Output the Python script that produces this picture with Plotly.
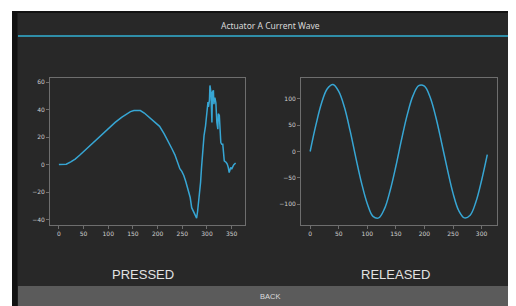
import plotly.graph_objects as go

# The page body has an 8px margin; the figure fills the rest of the 516x306 window.
OFF = 8
W, H = 516 - OFF, 306 - OFF

# ---- data ----
pressed_x = [0, 8, 15, 24, 33, 42, 50, 63, 77, 89, 101, 114, 127, 137, 145, 152, 158, 165, 173,
             181, 192, 204, 213, 222, 229, 235, 242, 245, 249, 253, 257, 262, 266, 269, 272, 275,
             277, 279, 281, 283, 285, 287, 289, 291, 294, 297, 299, 300, 302, 303, 305, 306, 308,
             310, 311, 313, 314, 316, 318, 320, 322, 323, 325, 328, 330, 332, 335, 339, 341, 343,
             345, 348, 350, 354, 358]
pressed_y = [0, 0, 0.3, 2, 4, 6.8, 9.5, 13.8, 18, 22.5, 26.6, 30.7, 34.4, 36.8, 38.5, 39.3, 39.5,
             39.3, 37.5, 35, 31.6, 27.8, 22.5, 16.8, 11.5, 7.1, -0.2, -3, -5, -8, -12.4, -19.7, -24,
             -31.4, -33.5, -35.5, -37, -39, -34, -28, -20, -13, -2, 9, 21, 28, 36, 43, 45.5, 42, 47,
             57.6, 52.6, 30.7, 52.7, 54, 44, 48.7, 45, 30.7, 25.8, 37, 35.7, 16, 14.7, 14.7, 2.7,
             1.5, 0.3, -2, -5.8, -2.1, -3.3, -0.3, 1.2]

released_x = [0, 10, 20, 30, 40, 50, 60, 70, 80, 90, 100, 110, 120, 130, 140, 150, 160, 170, 180,
              190, 200, 210, 220, 230, 240, 250, 260, 270, 280, 290, 300, 310]
released_y = [0, 50, 92, 119, 127, 114, 84, 39, -12, -60, -99, -123, -126, -109, -74, -28, 23, 70,
              106, 125, 124, 103, 65, 17, -33, -79, -112, -126, -121, -96, -55, -6]

left_xticks = [0, 50, 100, 150, 200, 250, 300, 350]
left_yticks = [-40, -20, 0, 20, 40, 60]
right_xticks = [0, 50, 100, 150, 200, 250, 300]
right_yticks = [-100, -50, 0, 50, 100]

title_text = "Actuator A Current Wave"
left_label = "PRESSED"
right_label = "RELEASED"
button_label = "BACK"

BG = "#282828"
LINE = "#37a6d4"
FRAME = "#6e6e6e"
TICKC = "#cfcfcf"


def px(x):
    return (x - OFF) / W


def py(y):
    return 1 - (y - OFF) / H


fig = go.Figure()
fig.add_trace(go.Scatter(x=pressed_x, y=pressed_y, mode="lines", xaxis="x", yaxis="y",
                         line=dict(color=LINE, width=1.5), showlegend=False))
fig.add_trace(go.Scatter(x=released_x, y=released_y, mode="lines", xaxis="x2", yaxis="y2",
                         line=dict(color=LINE, width=1.5, shape="spline"), showlegend=False))

axis_common = dict(showgrid=False, zeroline=False, showline=True, linecolor=FRAME, linewidth=1,
                   mirror=True, ticks="outside", ticklen=3, tickcolor=FRAME, tickwidth=1,
                   tickfont=dict(size=6, color=TICKC, family="DejaVu Sans"))

fig.update_layout(
    width=W, height=H,
    margin=dict(l=0, r=0, t=0, b=0),
    paper_bgcolor=BG, plot_bgcolor=BG,
    xaxis=dict(domain=[px(50), px(245)], range=[-18, 377], tickvals=left_xticks,
               anchor="y", **axis_common),
    yaxis=dict(domain=[py(225), py(78)], range=[-44, 63], tickvals=left_yticks,
               anchor="x", **axis_common),
    xaxis2=dict(domain=[px(301), px(497)], range=[-16, 327], tickvals=right_xticks,
                anchor="y2", **axis_common),
    yaxis2=dict(domain=[py(225), py(78)], range=[-139.5, 139.5], tickvals=right_yticks,
                anchor="x2", **axis_common),
)


def rect(x0, x1, y0, y1, color):
    # pixel coords of the window (top-left origin)
    return dict(type="rect", xref="paper", yref="paper", layer="below",
                x0=px(x0), x1=px(x1), y0=py(y1), y1=py(y0),
                fillcolor=color, line=dict(width=0))


shapes = [
    rect(OFF, 12, OFF, 306, "white"),
    rect(OFF, 516, OFF, 11, "white"),
    rect(12, 17.5, 11, 306, "#121212"),
    rect(12, 516, 11, 13, "#121212"),
    rect(18, 516, 35, 37, "#2f8ea8"),
    rect(18, 516, 286, 306, "#5b5b5b"),
]
fig.update_layout(shapes=shapes)

ann = [
    dict(text=title_text, x=px(270), y=py(25.5), font=dict(size=8.5, color="#d8d8d8", family="Noto Sans")),
    dict(text=left_label, x=px(143), y=py(274), font=dict(size=13, color="#e2e2e2", family="Liberation Sans")),
    dict(text=right_label, x=px(395.5), y=py(274), font=dict(size=13, color="#e2e2e2", family="Liberation Sans")),
    dict(text=button_label, x=px(269.5), y=py(296.5), font=dict(size=7.5, color="#dcdcdc", family="Liberation Sans")),
]
for a in ann:
    fig.add_annotation(xref="paper", yref="paper", showarrow=False, xanchor="center",
                       yanchor="middle", **a)

fig.write_html(
    "out.html",
    post_script="document.documentElement.style.overflow='hidden';document.body.style.overflow='hidden';",
)
